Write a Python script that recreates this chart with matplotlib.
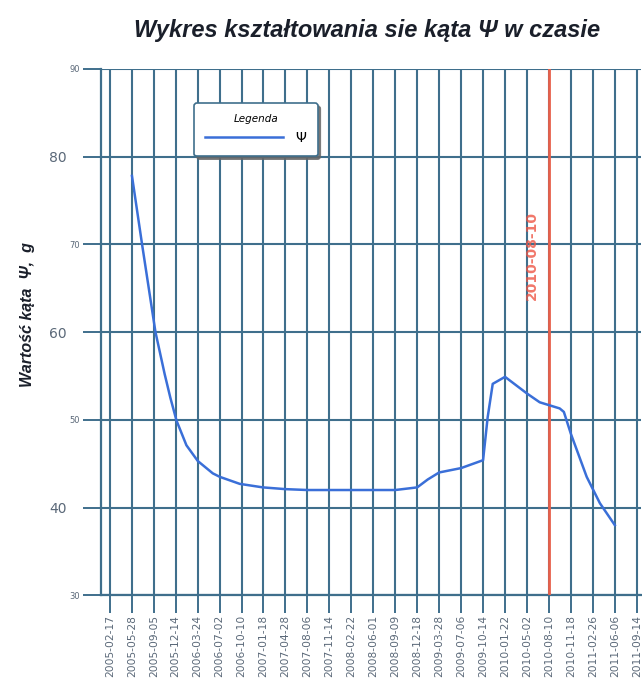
import numpy as np
import pandas as pd
import matplotlib
matplotlib.use('Agg')
import matplotlib.pyplot as plt
import matplotlib.dates as mdates
from matplotlib.transforms import ScaledTranslation

# %% Data
dates = ['2005-05-29', '2005-07-14', '2005-09-13', '2005-10-25',
         '2005-11-20', '2005-12-18', '2006-02-01', '2006-03-25', '2006-06-01',
         '2006-07-03', '2006-10-02', '2007-01-15', '2007-04-28', '2007-08-06',
         '2007-11-14', '2008-02-22', '2008-06-01', '2008-09-09', '2008-12-18',
         '2009-02-04', '2009-03-28', '2009-07-06', '2009-10-14', '2009-11-04',
         '2009-11-27', '2010-01-22', '2010-05-02', '2010-06-29', '2010-09-28',
         '2010-10-17', '2010-11-18', '2011-01-29', '2011-03-30', '2011-06-06']
psi = [77.8, 70.0, 60.0, 55.2,
       52.5, 49.9, 47.1, 45.3, 43.9,
       43.5, 42.7, 42.3, 42.1, 42.0,
       42.0, 42.0, 42.0, 42.0, 42.3,
       43.2, 44.0, 44.5, 45.4, 50.3,
       54.1, 54.9, 53.0, 52.0, 51.3,
       50.9, 48.4, 43.5, 40.5, 38.0]

tick_dates = pd.date_range('2005-02-17', periods=25, freq='100D')
y_ticks = [30, 40, 50, 60, 70, 80, 90]
y_big = [40, 60, 80]
marker_date = '2010-08-10'
marker_label = '2010-08-10'

# %% Styles
grid_col = '#3f6f8c'
text_col = '#5a6878'

fig = plt.figure(figsize=(6.42, 6.89), dpi=100)
ax = fig.add_axes([0.157, 0.136, 0.841, 0.764])

x = pd.to_datetime(dates)
ax.plot(x, psi, color='#3a6fd8', lw=1.8, zorder=5, label='Ψ')

ax.axvline(pd.Timestamp(marker_date), color='#e8604a', lw=2.0, zorder=4)
ax.annotate(marker_label, xy=(pd.Timestamp(marker_date), 68.7), xytext=(-12, 0),
            textcoords='offset points', rotation=90, ha='center', va='center',
            color='#ee5544', fontsize=10, fontweight='bold', alpha=0.8)

ax.set_xlim(tick_dates[0] - pd.Timedelta(days=41), tick_dates[0] + pd.Timedelta(days=2418))
ax.set_ylim(30, 90)

ax.set_xticks(tick_dates)
ax.xaxis.set_major_formatter(mdates.DateFormatter('%Y-%m-%d'))
ax.set_yticks(y_ticks)

ax.grid(True, color=grid_col, lw=1.5)
ax.set_axisbelow(True)

for s in ['top', 'right']:
    ax.spines[s].set_visible(False)
for s in ['left', 'bottom']:
    ax.spines[s].set_color(grid_col)
    ax.spines[s].set_linewidth(1.6)

ax.tick_params(axis='x', length=13, width=1.4, color=grid_col, pad=1,
               labelrotation=90, labelsize=7.7, labelcolor=text_col)
ax.tick_params(axis='y', length=13, width=1.4, color=grid_col, pad=2,
               labelcolor=text_col)
shift = ScaledTranslation(-13 / 100, 0, fig.dpi_scale_trans)
for lab, v in zip(ax.get_yticklabels(), y_ticks):
    if v in y_big:
        lab.set_fontsize(10)
        lab.set_transform(lab.get_transform() + shift)
    else:
        lab.set_fontsize(6)

leg = ax.legend(loc='upper left', bbox_to_anchor=(0.160, 0.948), title='Legenda',
                fancybox=True, shadow={'color': '#666666', 'alpha': 0.8},
                handlelength=5.6, handletextpad=0.9, fontsize=10, frameon=True,
                framealpha=1, borderpad=0.8,
                title_fontproperties={'style': 'italic', 'size': 7.5})
leg.get_frame().set_edgecolor(grid_col)
leg.get_frame().set_linewidth(1.2)

fig.text(367 / 642, 1 - 30 / 689, 'Wykres kształtowania sie kąta Ψ w czasie',
         ha='center', va='center', fontsize=17, fontweight='bold', style='italic',
         family='Liberation Sans', color='#1a1f2a')
fig.text(28 / 642, 1 - 315 / 689, 'Wartość kąta  Ψ,  g', rotation=90,
         ha='center', va='center', fontsize=11.5, fontweight='bold', style='italic',
         family='Liberation Sans', color='#1a1f2a')

plt.savefig('out.png', dpi=100)
